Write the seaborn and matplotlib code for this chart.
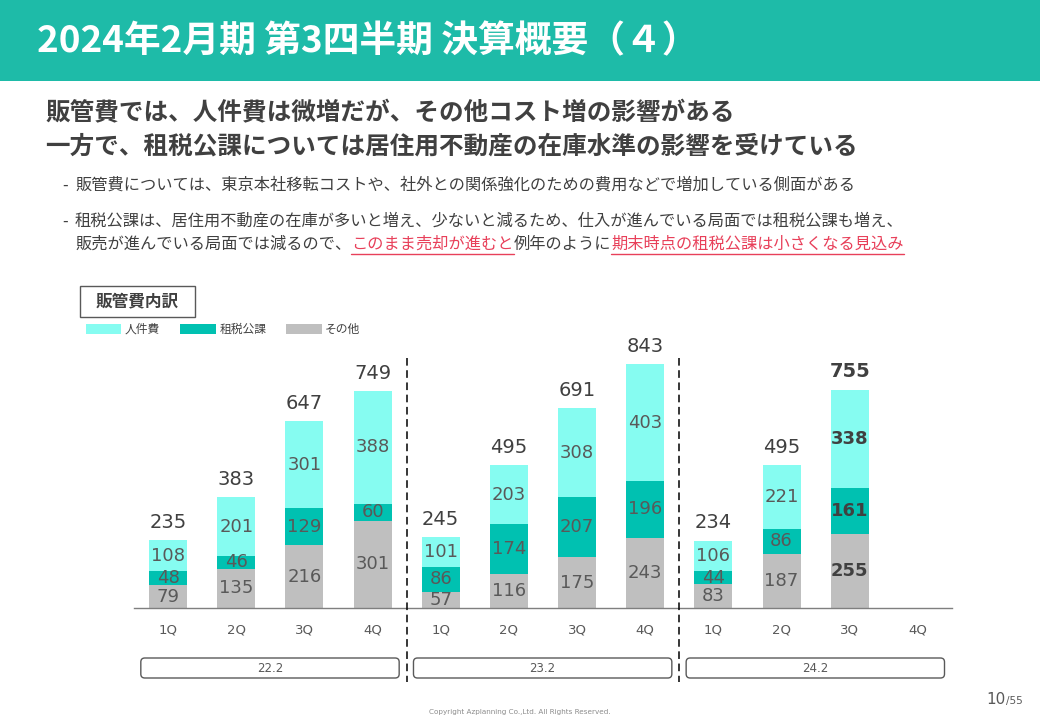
import matplotlib
matplotlib.use("Agg")
import pandas as pd
import matplotlib.pyplot as plt
import seaborn as sns
from matplotlib.patches import Rectangle, FancyBboxPatch, Patch
from matplotlib.lines import Line2D
from matplotlib import transforms

# data (units: million yen)
years = ["22.2", "23.2", "24.2"]
quarters = ["1Q", "2Q", "3Q", "4Q"]
other = [79, 135, 216, 301, 57, 116, 175, 243, 83, 187, 255]
tax = [48, 46, 129, 60, 86, 174, 207, 196, 44, 86, 161]
staff = [108, 201, 301, 388, 101, 203, 308, 403, 106, 221, 338]
totals = [235, 383, 647, 749, 245, 495, 691, 843, 234, 495, 755]
series_names = ["人件費", "租税公課", "その他"]

keys = [f"{y} {q}" for y in years for q in quarters]
df = pd.DataFrame({"key": keys[:len(other)], "other": other, "tax": tax,
                   "staff": staff, "total": totals})
df["top_tax"] = df["other"] + df["tax"]
df["top_staff"] = df["top_tax"] + df["staff"]

CYAN = "#86FCF1"
TEAL = "#00C1B1"
GRAY = "#BFBFBF"
BAND = "#1EBBA8"
DARK = "#404040"
MID = "#595959"

sns.set_style("white")
plt.rcParams['font.family'] = ['Noto Sans CJK JP', 'DejaVu Sans']

fig = plt.figure(figsize=(10.4, 7.2), dpi=100)

# background axes in pixel coordinates for slide texts
bg = fig.add_axes([0, 0, 1, 1])
bg.set_xlim(0, 1040)
bg.set_ylim(720, 0)
bg.axis('off')

bg.add_patch(Rectangle((0, 0), 1040, 81, color=BAND, lw=0))
bg.text(37, 42, "2024年2月期 第3四半期 決算概要（４）", color="white",
        fontsize=26.5, fontweight="bold", va="center", ha="left")

bg.text(45, 113, "販管費では、人件費は微増だが、その他コスト増の影響がある",
        color=DARK, fontsize=17.7, fontweight="bold", va="center")
bg.text(45, 147, "一方で、租税公課については居住用不動産の在庫水準の影響を受けている",
        color=DARK, fontsize=17.7, fontweight="bold", va="center")

BFS = 11.7
bg.text(62, 185, "-", color=DARK, fontsize=BFS, va="center")
bg.text(75, 185, "販管費については、東京本社移転コストや、社外との関係強化のための費用などで増加している側面がある",
        color=DARK, fontsize=BFS, va="center")
bg.text(62, 221, "-", color=DARK, fontsize=BFS, va="center")
bg.text(75, 221, "租税公課は、居住用不動産の在庫が多いと増え、少ないと減るため、仕入が進んでいる局面では租税公課も増え、",
        color=DARK, fontsize=BFS, va="center")

# third line with red underlined parts
renderer = fig.canvas.get_renderer()
pieces = [("販売が進んでいる局面では減るので、", False),
          ("このまま売却が進むと", True),
          ("例年のように", False),
          ("期末時点の租税公課は小さくなる見込み", True)]
x = 75
for txt, red in pieces:
    t = bg.text(x, 244, txt, color="#E8405A" if red else DARK, fontsize=BFS, va="center")
    bb = t.get_window_extent(renderer)
    if red:
        bg.plot([bb.x0, bb.x1], [254, 254], color="#E8405A", lw=1)
    x = bb.x1

# chart title box
bg.add_patch(Rectangle((80, 286), 115, 31, fill=False, ec=MID, lw=1))
bg.text(137.5, 301.5, "販管費内訳", color=DARK, fontsize=12, fontweight="bold",
        ha="center", va="center")

# chart axes
ax = fig.add_axes([134 / 1040, (720 - 608) / 720, (952 - 134) / 1040, (608 - 340) / 720])
for col, c in [("top_staff", CYAN), ("top_tax", TEAL), ("other", GRAY)]:
    sns.barplot(data=df, x="key", y=col, order=keys, color=c, saturation=1,
                width=0.557, errorbar=None, linewidth=0, ax=ax)
ax.set_xlim(-0.5, 11.5)
ax.set_ylim(0, 926)
ax.set_yticks([])
ax.set_xlabel("")
ax.set_ylabel("")
ax.set_xticks(range(len(keys)))
ax.set_xticklabels(quarters * len(years), fontsize=9.5, color=MID, family="DejaVu Sans")
ax.tick_params(axis="x", length=0, pad=11)
for s in ["left", "top", "right"]:
    ax.spines[s].set_visible(False)
ax.spines["bottom"].set_color("#7F7F7F")
ax.spines["bottom"].set_linewidth(1)
ax.patch.set_alpha(0)

# segment labels
for i, row in df.iterrows():
    bold = i == 10
    kw = dict(ha="center", va="center", family="DejaVu Sans", fontsize=13,
              color=DARK if bold else MID, fontweight="bold" if bold else "normal")
    ax.text(i, row["other"] / 2, str(row["other"]), **kw)
    ax.text(i, row["other"] + row["tax"] / 2, str(row["tax"]), **kw)
    ax.text(i, row["top_tax"] + row["staff"] / 2, str(row["staff"]), **kw)
    ax.annotate(str(row["total"]), (i, row["top_staff"]), xytext=(0, 6),
                textcoords="offset points", ha="center", va="bottom",
                family="DejaVu Sans", fontsize=14, color=DARK,
                fontweight="bold" if bold else "normal", annotation_clip=False)

# legend
handles = [Patch(color=c, lw=0) for c in [CYAN, TEAL, GRAY]]
ax.legend(handles, series_names, loc="upper left", ncol=3, frameon=False,
          bbox_to_anchor=(86 / 1040, 1 - 323 / 720), bbox_transform=fig.transFigure,
          fontsize=8.5, handlelength=3.0, handleheight=0.95, handletextpad=0.3,
          columnspacing=1.7, borderpad=0, borderaxespad=0, labelcolor=DARK)

# fiscal year separators and group boxes
mixed = transforms.blended_transform_factory(ax.transData, bg.transData)
for xs in [3.5, 7.5]:
    fig.add_artist(Line2D([xs, xs], [358, 682], transform=mixed, color="black",
                          lw=1.1, ls=(0, (5, 3))))
fig.canvas.draw()
for g, yr in enumerate(years):
    x0 = ax.transData.transform((g * 4 - 0.4, 0))[0]
    x1 = ax.transData.transform((g * 4 + 3.39, 0))[0]
    bg.add_patch(FancyBboxPatch((x0, 658), x1 - x0, 20, boxstyle="round,pad=0,rounding_size=4",
                                fill=False, ec=MID, lw=1))
    bg.text((x0 + x1) / 2, 668.5, yr, ha="center", va="center", family="DejaVu Sans",
            fontsize=8.5, color=MID)

# footer
bg.text(520, 712, "Copyright Azplanning Co.,Ltd. All Rights Reserved.", ha="center",
        va="center", fontsize=5.2, color="#8C8C8C", family="DejaVu Sans")
bg.text(1006, 704, "10", ha="right", va="baseline", fontsize=11, color=MID, family="DejaVu Sans")
bg.text(1006, 704, "/55", ha="left", va="baseline", fontsize=7.5, color=MID, family="DejaVu Sans")

fig.savefig("out.png", dpi=100)
